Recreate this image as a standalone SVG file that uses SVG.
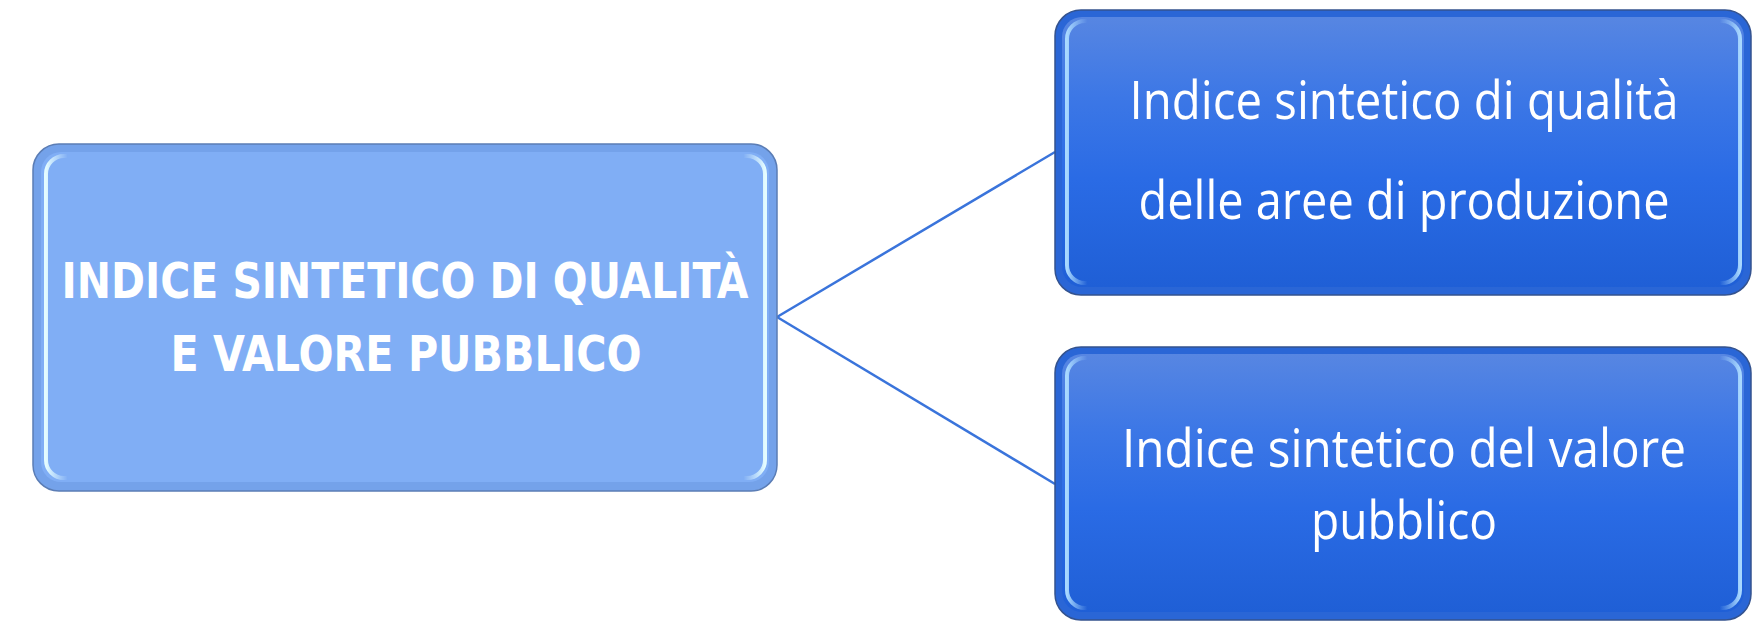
<svg xmlns="http://www.w3.org/2000/svg" width="1757" height="622" viewBox="0 0 1757 622">
<defs>
<linearGradient id="darkFill" x1="0" y1="0" x2="0" y2="1">
<stop offset="0" stop-color="#5786E2"/>
<stop offset="0.3" stop-color="#3C77E6"/>
<stop offset="0.6" stop-color="#2A6BE5"/>
<stop offset="1" stop-color="#1F5FD6"/>
</linearGradient>
<linearGradient id="hlLight" x1="0" y1="0" x2="1" y2="0">
<stop offset="0" stop-color="#E4FCFF" stop-opacity="1"/>
<stop offset="0.03" stop-color="#E4FCFF" stop-opacity="0"/>
<stop offset="0.97" stop-color="#E4FCFF" stop-opacity="0"/>
<stop offset="1" stop-color="#E4FCFF" stop-opacity="1"/>
</linearGradient>
<linearGradient id="hlDark" x1="0" y1="0" x2="1" y2="0">
<stop offset="0" stop-color="#A8D8FF" stop-opacity="1"/>
<stop offset="0.03" stop-color="#A8D8FF" stop-opacity="0"/>
<stop offset="0.97" stop-color="#A8D8FF" stop-opacity="0"/>
<stop offset="1" stop-color="#A8D8FF" stop-opacity="1"/>
</linearGradient>
</defs>
<style>
.bold{font-family:"Liberation Sans Narrow","DejaVu Sans Condensed","Open Sans",sans-serif;font-weight:bold;font-size:50px;fill:#ffffff;text-anchor:middle}
.light{font-family:"Open Sans","Roboto","Liberation Sans",sans-serif;font-weight:400;font-size:53px;fill:#ffffff;text-anchor:middle}
.conn{stroke:#3A74DB;stroke-width:2.5;fill:none}
</style>
<rect width="1757" height="622" fill="#ffffff"/>
<g id="connectors">
<path class="conn" d="M777,317 L1055,152"/>
<path class="conn" d="M777,317 L1055,484"/>
</g>
<g id="main">
<rect x="33" y="144" width="744" height="347" rx="26" fill="#74A2EA" stroke="#5B7DB5" stroke-width="1.5"/>
<rect x="41" y="152" width="728" height="330" rx="20" fill="#80AEF5"/>
<rect x="46" y="156" width="719" height="322" rx="18" fill="none" stroke="url(#hlLight)" stroke-width="4"/>
<text class="bold" x="405" y="298" textLength="687" lengthAdjust="spacingAndGlyphs">INDICE SINTETICO DI QUALITÀ</text>
<text class="bold" x="406" y="371" textLength="471" lengthAdjust="spacingAndGlyphs">E VALORE PUBBLICO</text>
</g>
<g id="quality">
<rect x="1055" y="10" width="696" height="285" rx="26" fill="#2A66D6" stroke="#34538F" stroke-width="1.5"/>
<rect x="1062" y="17" width="682" height="270" rx="20" fill="url(#darkFill)"/>
<rect x="1067" y="21" width="673" height="262" rx="18" fill="none" stroke="url(#hlDark)" stroke-width="4"/>
<text class="light" x="1404" y="119" textLength="549" lengthAdjust="spacingAndGlyphs">Indice sintetico di qualità</text>
<text class="light" x="1404" y="219" textLength="531" lengthAdjust="spacingAndGlyphs">delle aree di produzione</text>
</g>
<g id="value">
<rect x="1055" y="347" width="696" height="273" rx="26" fill="#2A66D6" stroke="#34538F" stroke-width="1.5"/>
<rect x="1062" y="354" width="682" height="258" rx="20" fill="url(#darkFill)"/>
<rect x="1067" y="358" width="673" height="250" rx="18" fill="none" stroke="url(#hlDark)" stroke-width="4"/>
<text class="light" x="1404" y="467" textLength="564" lengthAdjust="spacingAndGlyphs">Indice sintetico del valore</text>
<text class="light" x="1404" y="539" textLength="186" lengthAdjust="spacingAndGlyphs">pubblico</text>
</g>
</svg>
